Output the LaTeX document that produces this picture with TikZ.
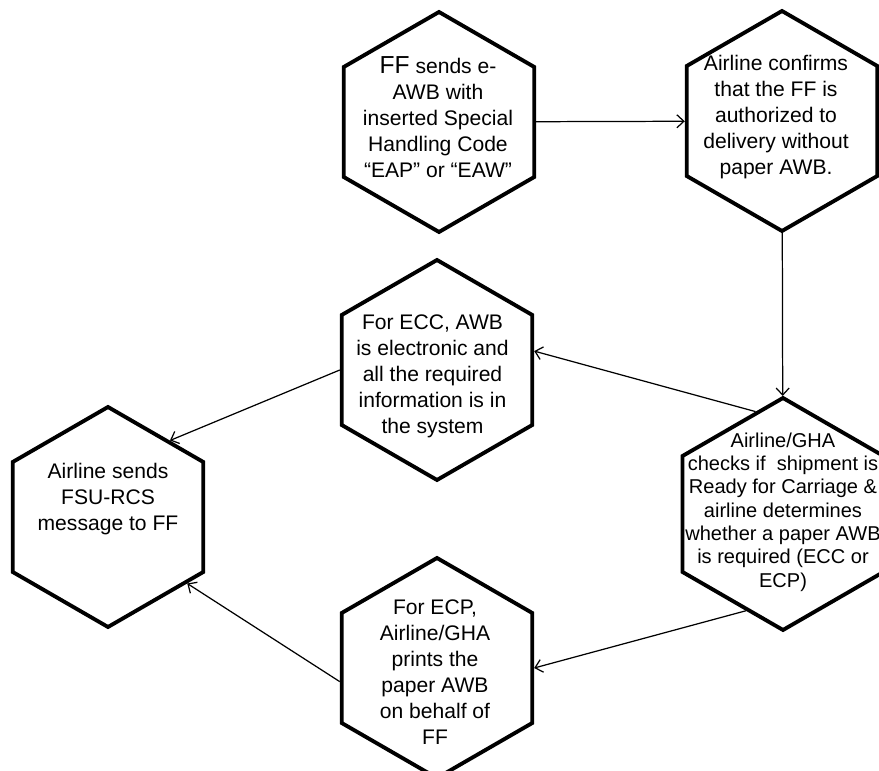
\documentclass[tikz,border=0pt]{standalone}
\usepackage{fontspec}
\setmainfont{Liberation Sans}
\usetikzlibrary{shapes.geometric,arrows.meta}
\begin{document}
\begin{tikzpicture}
  \tikzstyle{hexa}=[draw, line width=2.2pt, regular polygon, regular polygon sides=6, shape border rotate=30, minimum size=4.4cm, inner sep=0pt]
  \tikzstyle{txt}=[align=center, inner sep=0pt, font=\fontsize{12}{14.8}\selectfont]
  \tikzstyle{arr}=[line width=0.7pt, -{Straight Barb[length=1.4mm,width=2.6mm]}]
  \useasboundingbox (0,0) rectangle (17.58,15.42);

  \node[hexa] (ff) at (8.78, 12.98){};
  \node[txt] (ff-t) at (8.76, 13.08){{\fontsize{14}{14.8}\selectfont FF} sends e-\\AWB with\\inserted Special\\Handling Code\\``EAP'' or ``EAW''};
  \node[hexa] (conf) at (15.64, 13.0){};
  \node[txt] (conf-t) at (15.52, 13.07){Airline confirms\\that the FF is\\authorized to\\delivery without\\paper AWB.};

  \node[hexa] (ecc) at (8.74, 8.02){};
  \node[txt] (ecc-t) at (8.65, 7.90){For ECC, AWB\\is electronic and\\all the required\\information is in\\the system};
  \node[hexa, minimum size=4.64cm] (chk) at (15.66, 5.14){};
  \node[txt, font=\fontsize{11.4}{13.3}\selectfont] (chk-t) at (15.66, 5.18){Airline/GHA\\checks if\ \ shipment is\\Ready for Carriage \&\\airline determines\\whether a paper AWB\\is required (ECC or\\ECP)};

  \node[hexa] (rcs) at (2.16, 5.08){};
  \node[txt] (rcs-t) at (2.16, 5.44){Airline sends\\FSU-RCS\\message to FF};
  \node[hexa] (ecp) at (8.74, 2.06){};
  \node[txt] (ecp-t) at (8.70, 1.98){For ECP,\\Airline/GHA\\prints the\\paper AWB\\on behalf of\\FF};

  \draw[arr] (ff) -- (conf);
  \draw[arr] (conf) -- (chk);
  \draw[arr] (chk.105) -- (ecc.11);
  \draw[arr] (ecc.180) -- (rcs.51);
  \draw[arr] (chk.249) -- (ecp.0);
  \draw[arr] (ecp.188) -- (rcs.320);
\end{tikzpicture}
\end{document}
